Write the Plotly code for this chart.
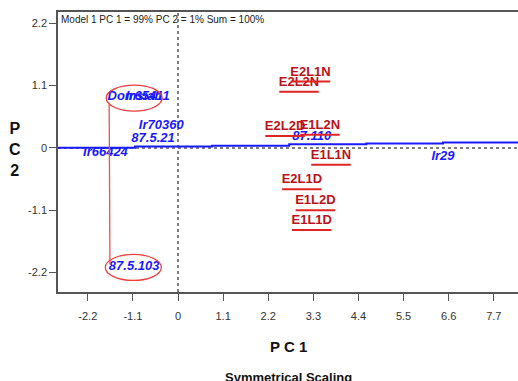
import plotly.graph_objects as go

# Score plot: treatment samples (red) and varieties (blue)
sample_labels = ["E2L1N", "E2L2N", "E2L2D", "E1L2N", "E1L1N", "E2L1D", "E1L2D", "E1L1D"]
sample_pc1 = [3.23, 2.95, 2.61, 3.46, 3.73, 3.02, 3.35, 3.26]
sample_pc2 = [1.33, 1.15, 0.37, 0.39, -0.14, -0.57, -0.94, -1.29]

variety_labels = ["Domsiah", "Ir65411", "Ir70360", "87.5.21", "Ir66424", "87.110", "Ir29", "87.5.103"]
variety_pc1 = [-1.05, -0.74, -0.41, -0.61, -1.77, 3.26, 6.46, -1.07]
variety_pc2 = [0.90, 0.90, 0.39, 0.16, -0.09, 0.19, -0.16, -2.10]

# loading profile drawn as a stepped line
profile_pc1 = [-2.93, -1.05, 0.83, 2.71, 4.59, 6.46, 8.4]
profile_pc2 = [0.005, 0.023, 0.04, 0.065, 0.076, 0.094, 0.094]

# highlighted groups (ellipse centres) and the connector between them
group_pc1 = [-1.07, -1.09]
group_pc2 = [0.88, -2.11]
link_pc1 = [-1.68, -1.66]
link_pc2 = [0.80, -2.06]

x_ticks = [-2.2, -1.1, 0, 1.1, 2.2, 3.3, 4.4, 5.5, 6.6, 7.7]
y_ticks = [-2.2, -1.1, 0, 1.1, 2.2]

FONT = "Liberation Sans, Arial, sans-serif"
RED = "#bb121a"
BLUE = "#1a1aff"

fig = go.Figure()

fig.add_trace(go.Scatter(
    x=profile_pc1, y=profile_pc2, mode="lines", line_shape="hv",
    line=dict(color=BLUE, width=2), hoverinfo="skip", showlegend=False,
))

fig.add_trace(go.Scatter(
    x=variety_pc1, y=variety_pc2, mode="text", text=variety_labels,
    texttemplate="<b><i>%{text}</i></b>",
    textfont=dict(family=FONT, size=13, color=BLUE),
    showlegend=False,
))

fig.add_trace(go.Scatter(
    x=sample_pc1, y=sample_pc2, mode="text", text=sample_labels,
    texttemplate="<b>%{text}</b>",
    textfont=dict(family=FONT, size=13, color=RED),
    showlegend=False,
))

shapes = []
# zero reference lines
shapes.append(dict(type="line", xref="x", yref="paper", x0=0, x1=0, y0=0, y1=1,
                   line=dict(color="#555555", width=1.5, dash="dot"), layer="below"))
shapes.append(dict(type="line", xref="paper", yref="y", x0=0, x1=1, y0=0, y1=0,
                   line=dict(color="#555555", width=1.5, dash="dot"), layer="below"))
# underline under each sample label
for lab, px, py in zip(sample_labels, sample_pc1, sample_pc2):
    w = len(lab) * 7.9
    shapes.append(dict(type="line", xref="x", yref="y", xsizemode="pixel", ysizemode="pixel",
                       xanchor=px, yanchor=py, x0=-w / 2, x1=w / 2, y0=-9, y1=-9,
                       line=dict(color="#e02424", width=2)))
# ellipses around highlighted groups
for gx, gy in zip(group_pc1, group_pc2):
    shapes.append(dict(type="circle", xref="x", yref="y", xsizemode="pixel", ysizemode="pixel",
                       xanchor=gx, yanchor=gy, x0=-28, x1=28, y0=-13, y1=13,
                       line=dict(color="#f03c3c", width=1.3)))
shapes.append(dict(type="line", xref="x", yref="y", x0=link_pc1[0], y0=link_pc2[0],
                   x1=link_pc1[1], y1=link_pc2[1], line=dict(color="#f05050", width=1.3)))

annotations = [
    dict(text="Model 1 PC 1 = 99% PC 2 = 1% Sum = 100%", xref="paper", yref="paper",
         x=0, y=1, xanchor="left", yanchor="top", xshift=1, yshift=0, showarrow=False,
         font=dict(family=FONT, size=10, color="#222222")),
    dict(text="<b>P C 1</b>", xref="paper", yref="paper", x=0.5, y=0, yanchor="middle",
         yshift=-54, showarrow=False, font=dict(family=FONT, size=15, color="#111111")),
    dict(text="<b>Symmetrical Scaling</b>", xref="paper", yref="paper", x=0.5, y=0,
         yanchor="middle", yshift=-85, showarrow=False,
         font=dict(family=FONT, size=13, color="#111111")),
    dict(text="<b>P<br>C<br>2</b>", xref="paper", yref="paper", x=0, y=0.5, xanchor="center",
         yanchor="middle", xshift=-43, yshift=3, showarrow=False,
         font=dict(family=FONT, size=16, color="#111111")),
]

fig.update_layout(
    width=518, height=381,
    margin=dict(l=58, r=0, t=12, b=89),
    paper_bgcolor="white", plot_bgcolor="white",
    shapes=shapes, annotations=annotations,
    xaxis=dict(range=[-2.927, 8.29], tickvals=x_ticks, ticktext=[str(v) for v in x_ticks],
               showgrid=False, zeroline=False, showline=True, mirror=True,
               linecolor="#555555", linewidth=1.5, ticks="outside", ticklen=7,
               tickcolor="#555555", ticklabelstandoff=6,
               tickfont=dict(family=FONT, size=11, color="#333333")),
    yaxis=dict(range=[-2.544, 2.40], tickvals=y_ticks, ticktext=[str(v) for v in y_ticks],
               showgrid=False, zeroline=False, showline=True, mirror=False,
               linecolor="#555555", linewidth=1.5, ticks="outside", ticklen=7,
               tickcolor="#555555", tickfont=dict(family=FONT, size=11, color="#333333")),
)

fig.write_html("out.html")
